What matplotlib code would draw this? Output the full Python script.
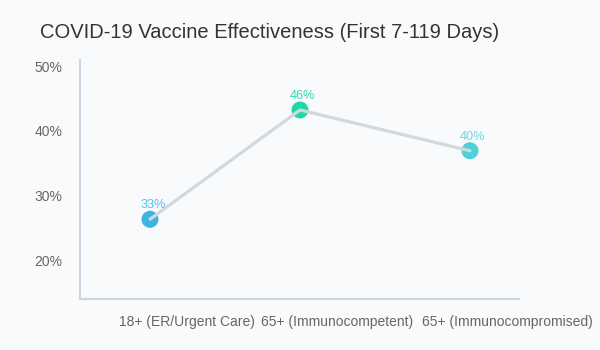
import matplotlib
matplotlib.use("Agg")
import matplotlib.pyplot as plt
import matplotlib.transforms as mtransforms

plt.rcParams['font.family'] = ['Liberation Sans', 'DejaVu Sans']

# data (point heights, labels as printed on the chart)
groups = ['18+ (ER/Urgent Care)', '65+ (Immunocompetent)', '65+ (Immunocompromised)']
effectiveness = [26.3, 43.2, 36.9]
value_labels = ['33%', '46%', '40%']
point_colors = ['#3db5e1', '#1fd8a9', '#4ed0dd']
label_colors = ['#5ac2e9', '#2edbb2', '#6bd6e2']

# category slots are not evenly spaced in the original layout
slots = [0, 1, 2.133]

bg = '#f9fafc'
fig = plt.figure(figsize=(6, 3.5), dpi=100, facecolor=bg)
ax = fig.add_axes([0.1333, 0.1457, 0.7317, 0.6829], facecolor=bg)

ax.scatter(slots, effectiveness, s=150, c=point_colors, zorder=2, linewidths=0)
ax.plot(slots, effectiveness, color='#d3d8dc', linewidth=2.3, zorder=3,
        solid_capstyle='round')

for xi, yi, lab, col in zip(slots, effectiveness, value_labels, label_colors):
    ax.annotate(lab, (xi, yi), xytext=(2, 10), textcoords='offset points',
                ha='center', va='center', fontsize=9.2, color=col)

ax.set_xlim(-0.4667, 2.46)
ax.set_ylim(13.97, 50.93)
ax.set_yticks([20, 30, 40, 50])
ax.set_yticklabels(['20%', '30%', '40%', '50%'])
ax.set_xticks(slots)
ax.set_xticklabels(groups)

ax.tick_params(axis='both', length=0, labelsize=10, labelcolor='#666666')
ax.tick_params(axis='y', pad=12.5)
ax.tick_params(axis='x', pad=11.5)
shift = mtransforms.ScaledTranslation(37 / 100, 0, fig.dpi_scale_trans)
for t in ax.get_xticklabels():
    t.set_transform(t.get_transform() + shift)

for side in ['top', 'right']:
    ax.spines[side].set_visible(False)
for side in ['left', 'bottom']:
    ax.spines[side].set_color('#cad6e4')
    ax.spines[side].set_linewidth(1.5)

fig.text(40 / 600, 1 - 33 / 350, 'COVID-19 Vaccine Effectiveness (First 7-119 Days)',
         ha='left', va='center', fontsize=14.5, color='#333333')

fig.savefig('out.png', dpi=100, facecolor=bg)
